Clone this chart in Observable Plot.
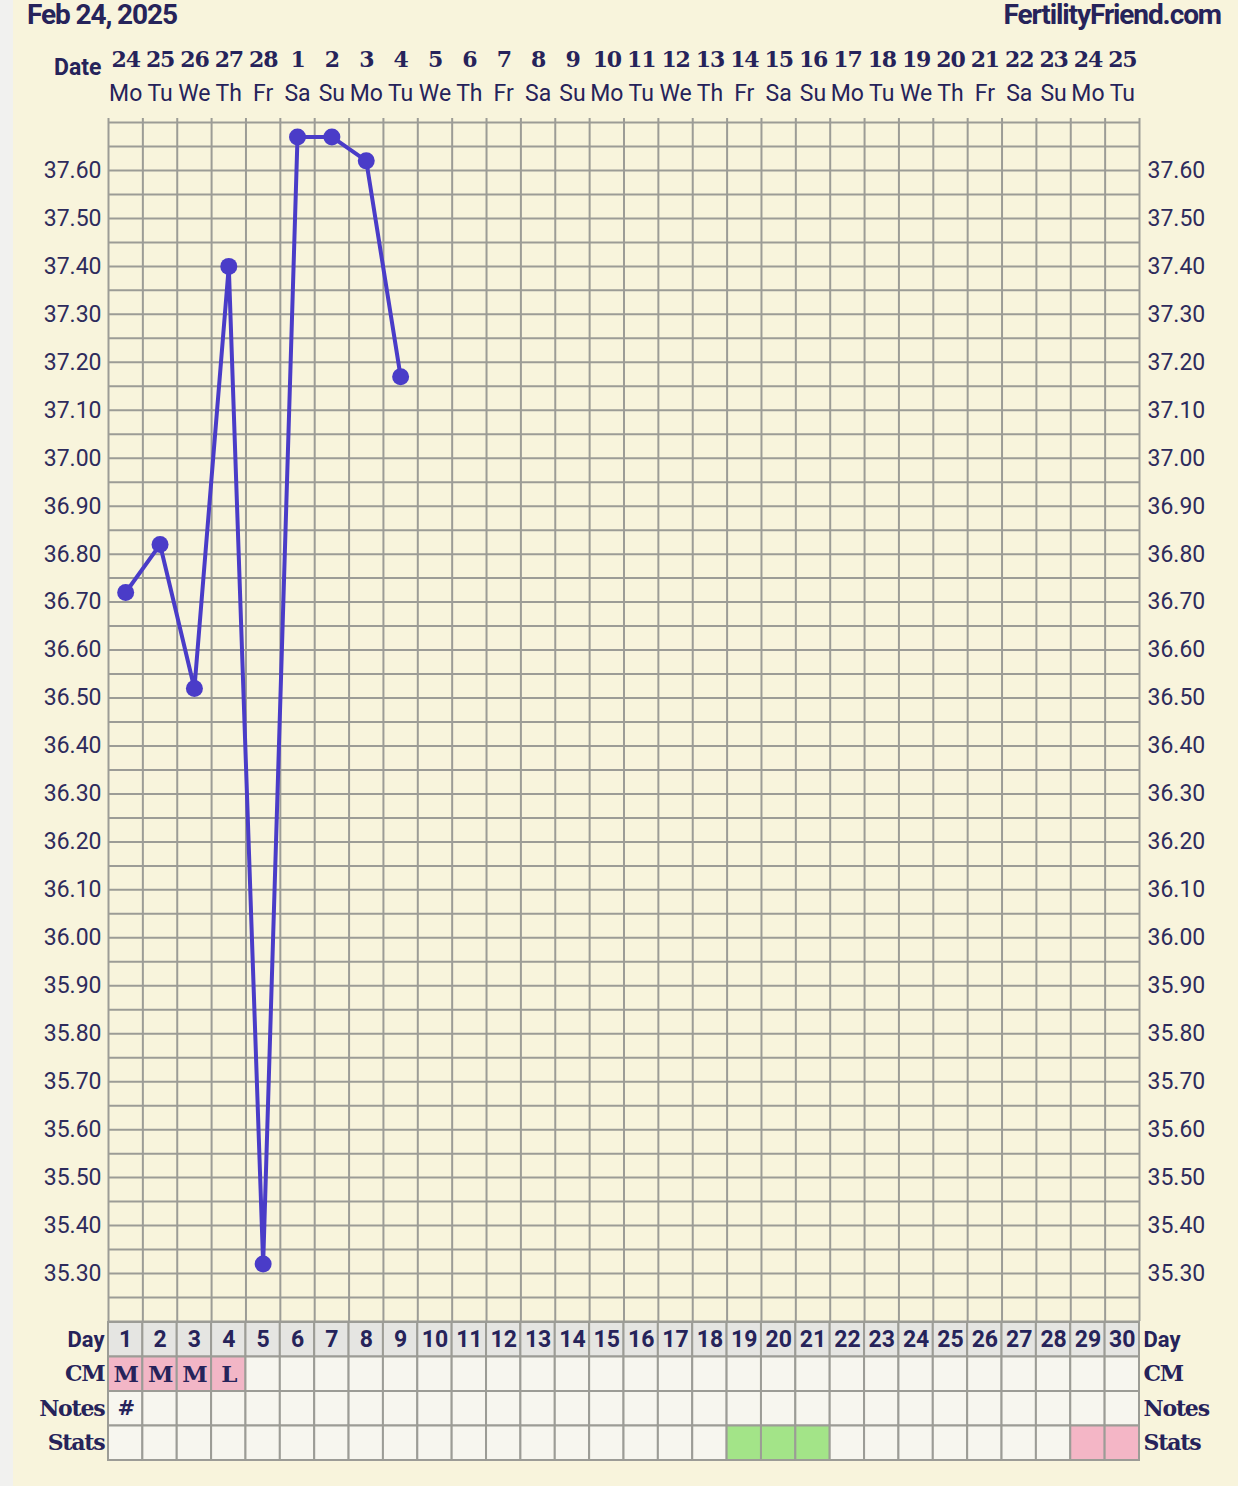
<!DOCTYPE html>
<html>
<head>
<meta charset="utf-8">
<script src="https://cdn.jsdelivr.net/npm/d3@7"></script>
<script src="https://cdn.jsdelivr.net/npm/@observablehq/plot@0.6"></script>
<style>
html, body { margin: 0; padding: 0; }
body {
  width: 1238px; height: 1486px; position: relative; overflow: hidden;
  background: linear-gradient(to right, #f1f1ef 0, #f1f1ef 13px, #f8f4dc 13px);
  font-family: Roboto, sans-serif;
}
.hdr { position: absolute; top: -2px; font: bold 28px Roboto, sans-serif; color: #26235a; letter-spacing: -1.1px; }
#title { left: 27px; }
#brand { right: 17px; }
#chart { position: absolute; left: 0; top: 40px; }
#table { position: absolute; left: 0; top: 1322px; }
svg { overflow: visible; }
g[font-family*="Serif"] text { letter-spacing: -1.2px; }
</style>
</head>
<body>
<div id="title" class="hdr">Feb 24, 2025</div>
<div id="brand" class="hdr">FertilityFriend.com</div>
<div id="chart"></div>
<div id="table"></div>
<script>
// ---- data ----
const days = [1,2,3,4,5,6,7,8,9,10,11,12,13,14,15,16,17,18,19,20,21,22,23,24,25,26,27,28,29,30];
const dates = [24,25,26,27,28,1,2,3,4,5,6,7,8,9,10,11,12,13,14,15,16,17,18,19,20,21,22,23,24,25];
const weekdays = ["Mo","Tu","We","Th","Fr","Sa","Su","Mo","Tu","We","Th","Fr","Sa","Su","Mo","Tu","We","Th","Fr","Sa","Su","Mo","Tu","We","Th","Fr","Sa","Su","Mo","Tu"];
const tempDays = [1,2,3,4,5,6,7,8,9];
const temps = [36.72, 36.82, 36.52, 37.40, 35.32, 37.67, 37.67, 37.62, 37.17];
const yTicks = [35.3,35.4,35.5,35.6,35.7,35.8,35.9,36.0,36.1,36.2,36.3,36.4,36.5,36.6,36.7,36.8,36.9,37.0,37.1,37.2,37.3,37.4,37.5,37.6];
const cmDays = [1,2,3,4];
const cmValues = ["M","M","M","L"];
const noteDays = [1];
const noteValues = ["#"];
const statsGreenDays = [19,20,21];
const statsPinkDays = [29,30];
const rows = ["Day","CM","Notes","Stats"];

// ---- styling ----
const ink = "#26235a";
const gridColor = "#9c9c96";
const lineColor = "#4a3cc8";
const slab = "'DejaVu Serif', serif";

const tempData = tempDays.map((d, i) => ({day: d, temp: temps[i]}));
const dateData = days.map((d, i) => ({day: d, date: dates[i], wd: weekdays[i]}));
const gridY = d3.range(0, 51).map(i => +(35.2 + i * 0.05).toFixed(2));
const colEdges = d3.range(0, 31).map(i => i + 0.5);

const chart = Plot.plot({
  width: 1238,
  height: 1282,
  marginTop: 82,
  marginBottom: 1,
  marginLeft: 108,
  marginRight: 99,
  style: {background: "transparent", color: ink, fontFamily: "Roboto, sans-serif", fontSize: "22px"},
  x: {domain: [0.5, 30.5], axis: null},
  y: {domain: [35.2, 37.7], axis: null},
  marks: [
    Plot.ruleY(gridY, {stroke: gridColor, strokeWidth: 2, strokeOpacity: 1}),
    Plot.ruleX(colEdges, {stroke: gridColor, strokeWidth: 2, strokeOpacity: 1, insetTop: -4}),
    Plot.line(tempData, {x: "day", y: "temp", stroke: lineColor, strokeWidth: 4}),
    Plot.dot(tempData, {x: "day", y: "temp", r: 8.5, fill: lineColor, stroke: null}),
    Plot.text(dateData, {x: "day", text: "date", frameAnchor: "top", lineAnchor: "middle", dy: -63, fontFamily: slab, fontWeight: "bold", fontSize: 22, fill: ink}),
    Plot.text(dateData, {x: "day", text: "wd", frameAnchor: "top", lineAnchor: "middle", dy: -29, fontSize: 23, fill: ink}),
    Plot.text(["Date"], {text: d => d, frameAnchor: "top-left", lineAnchor: "middle", dx: -7, dy: -55, textAnchor: "end", fontWeight: "bold", fontSize: 23, fill: ink}),
    Plot.axisY(yTicks, {anchor: "left", label: null, tickSize: 0, tickPadding: 7, tickFormat: d => d.toFixed(2), fontSize: 23, fill: "#2e2b5c"}),
    Plot.axisY(yTicks, {anchor: "right", label: null, tickSize: 0, tickPadding: 8, tickFormat: d => d.toFixed(2), fontSize: 23, fill: "#2e2b5c"})
  ]
});
document.getElementById("chart").appendChild(chart);

// ---- table ----
const cells = [];
for (const r of rows) {
  for (const d of days) {
    let fill = "#f7f6ef";
    if (r === "Day") fill = "#e5e5e2";
    if (r === "CM" && cmDays.includes(d)) fill = "#f2b6c6";
    if (r === "Stats" && statsGreenDays.includes(d)) fill = "#a3e488";
    if (r === "Stats" && statsPinkDays.includes(d)) fill = "#f4b6c6";
    cells.push({row: r, day: d, fill});
  }
}
const cmData = cmDays.map((d, i) => ({day: d, row: "CM", text: cmValues[i]}));
const noteData = noteDays.map((d, i) => ({day: d, row: "Notes", text: noteValues[i]}));
const dayData = days.map(d => ({day: d, row: "Day", text: String(d)}));
const labelFonts = {Day: "Roboto, sans-serif", CM: slab, Notes: slab, Stats: slab};

const table = Plot.plot({
  width: 1238,
  height: 164,
  marginTop: 0,
  marginBottom: 26,
  marginLeft: 108,
  marginRight: 99,
  style: {background: "transparent", color: ink, fontFamily: "Roboto, sans-serif"},
  x: {type: "band", domain: days, padding: 0, round: false, axis: null},
  y: {type: "band", domain: rows, padding: 0, round: false, axis: null},
  color: {type: "identity"},
  marks: [
    Plot.cell(cells, {x: "day", y: "row", fill: "fill", stroke: gridColor, strokeWidth: 2}),
    Plot.text(dayData, {x: "day", y: "row", text: "text", fontWeight: "bold", fontSize: 23, fill: ink}),
    Plot.text(cmData, {x: "day", y: "row", text: "text", fontFamily: slab, fontWeight: "bold", fontSize: 23, fill: ink}),
    Plot.text(noteData, {x: "day", y: "row", text: "text", fontFamily: slab, fontWeight: "bold", fontSize: 21, fill: ink}),
    ...rows.map(r => Plot.text([r], {y: d => d, text: d => d, frameAnchor: "left", dx: -4, textAnchor: "end", fontFamily: labelFonts[r], fontWeight: "bold", fontSize: 22, fill: ink})),
    ...rows.map(r => Plot.text([r], {y: d => d, text: d => d, frameAnchor: "right", dx: 4, textAnchor: "start", fontFamily: labelFonts[r], fontWeight: "bold", fontSize: 22, fill: ink}))
  ]
});
document.getElementById("table").appendChild(table);
</script>
</body>
</html>
